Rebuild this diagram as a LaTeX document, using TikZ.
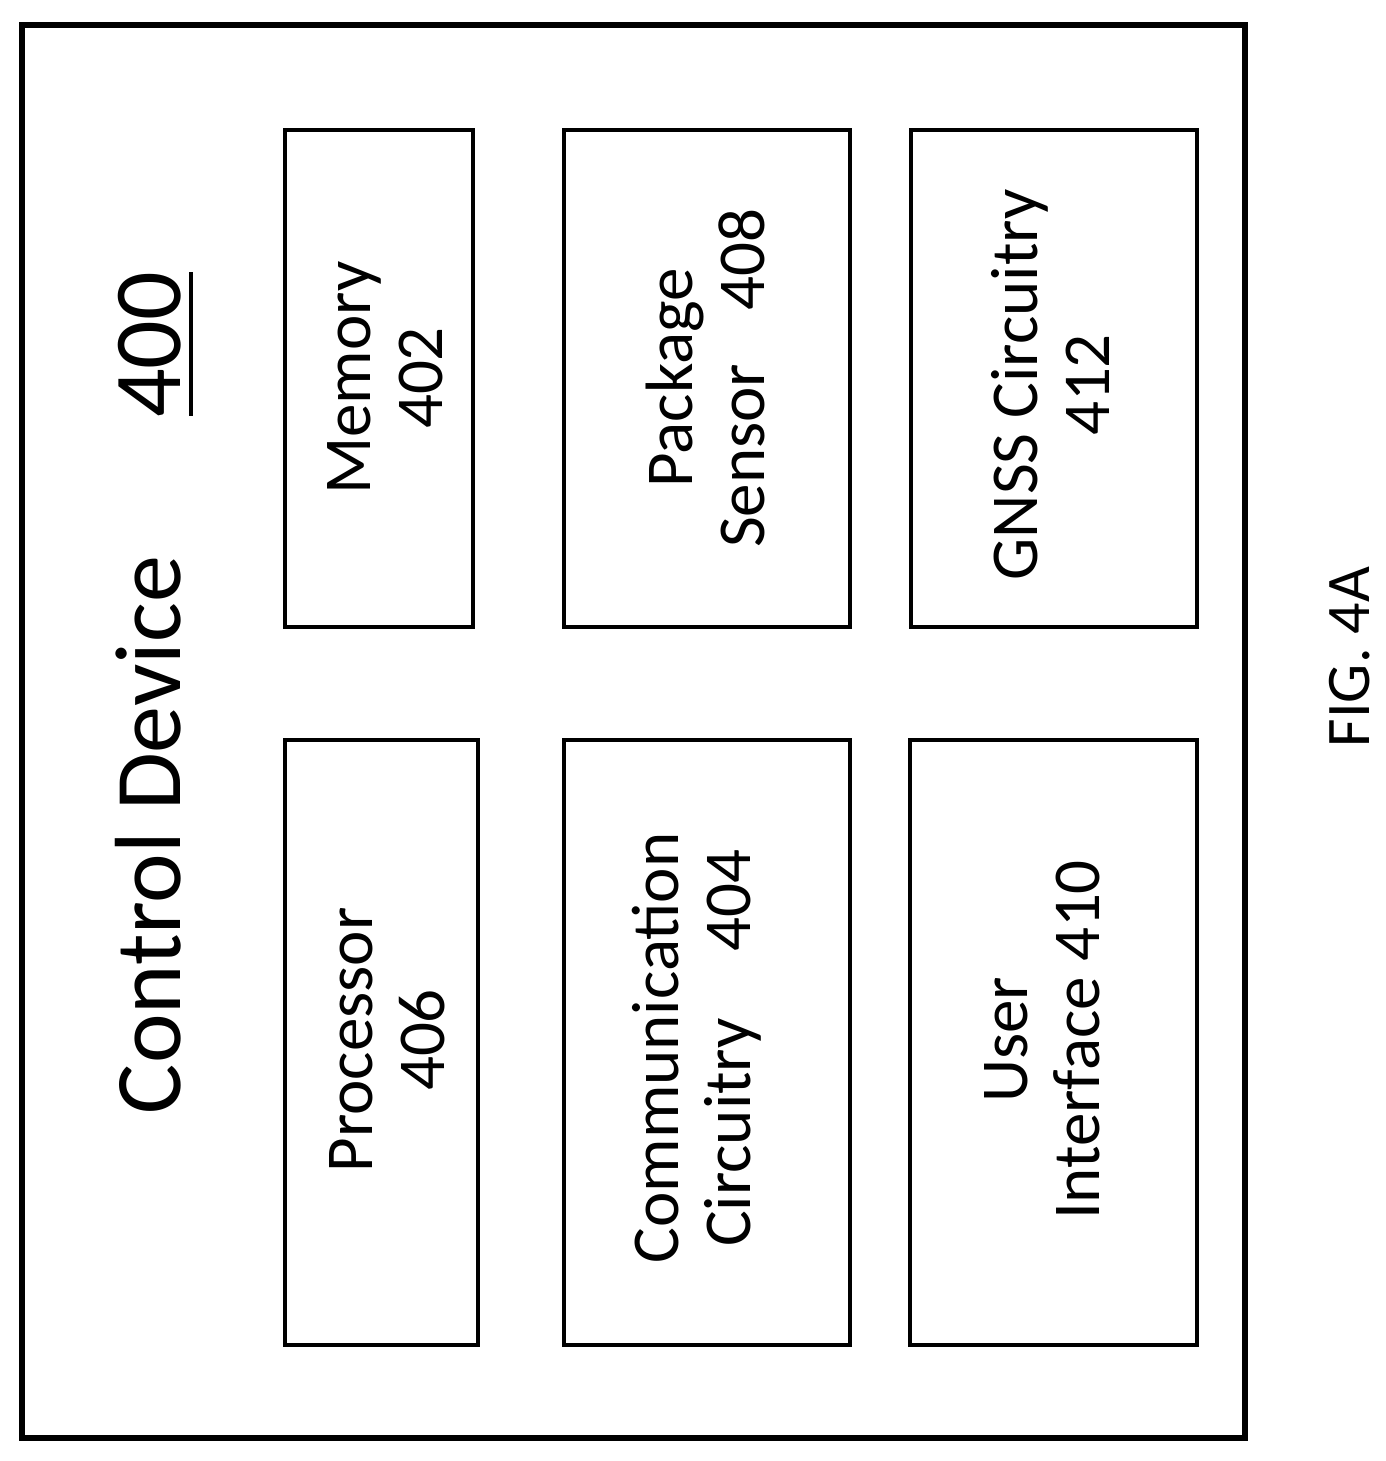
\documentclass[tikz,border=0pt]{standalone}
\usepackage{fontspec}
\setmainfont{Carlito}
\tikzset{every picture/.style={line width=4pt}}
\tikzset{blockbox/.style={draw, line width=4pt},
  blocktext/.style={rotate=90, align=center, inner sep=0pt, font=\fontsize{67}{72}\selectfont}}
\begin{document}
\begin{tikzpicture}[x=1pt,y=1pt,yscale=-1,xscale=1]
		\useasboundingbox (0,0) rectangle (1386,1461);
		%Shape: outer frame
		\draw [line width=6pt]  (22,25) -- (1245,25) -- (1245,1438) -- (22,1438) -- cycle ;
		%Shape: blocks
		\draw [blockbox] (285,130) rectangle (473,627) ;
		\draw [blockbox] (285,740) rectangle (478,1345) ;
		\draw [blockbox] (564,130) rectangle (850,627) ;
		\draw [blockbox] (564,740) rectangle (850,1345) ;
		\draw [blockbox] (911,130) rectangle (1197,627) ;
		\draw [blockbox] (910,740) rectangle (1197,1345) ;
		
		\draw (148,835) node [rotate=90, inner sep=0pt, font=\fontsize{94}{110}\selectfont] (title) {Control Device};
		\draw (150,345) node [rotate=90, inner sep=0pt, font=\fontsize{96}{110}\selectfont] (num) {400};
		\draw [line width=4pt] (191,272) -- (191,416) ;
		\draw (385,378) node [blocktext] (memory) {Memory\\402};
		\draw (387,1040) node [blocktext] (processor) {Processor\\406};
		\draw (705,378) node [blocktext] (sensor) {Package\\Sensor\hspace{0.8em}408};
		\draw (697,1048) node [blocktext] (comm) {Communication\\Circuitry\hspace{1em}404};
		\draw (1050,385) node [blocktext] (gnss) {GNSS Circuitry\\412};
		\draw (1042,1040) node [blocktext] (ui) {User\\Interface 410};
		\draw (1350,657) node [rotate=90, inner sep=0pt, font=\fontsize{62}{70}\selectfont] (fig) {FIG. 4A};
\end{tikzpicture}
\end{document}
